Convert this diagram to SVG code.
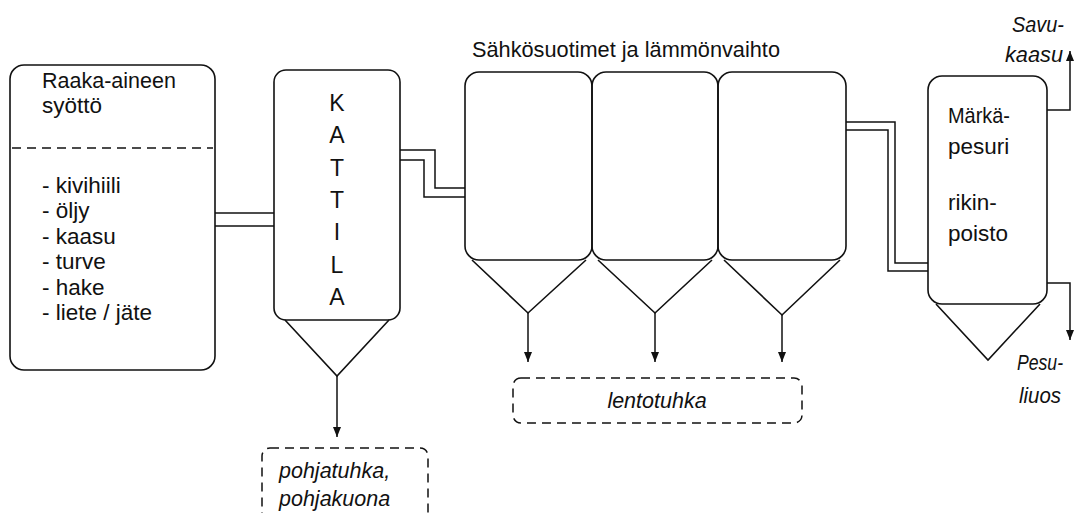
<svg xmlns="http://www.w3.org/2000/svg" width="1075" height="513" viewBox="0 0 1075 513">
<style>
  .box{fill:none;stroke:#111;stroke-width:1.6}
  .dash{fill:none;stroke:#111;stroke-width:1.5;stroke-dasharray:9 6}
  .ln{fill:none;stroke:#111;stroke-width:1.5}
  .t{font-family:"Liberation Sans",Arial,sans-serif;font-size:22.5px;fill:#111}
  .i{font-family:"Liberation Sans",Arial,sans-serif;font-size:21.5px;font-style:italic;fill:#111}
  .k{font-family:"Liberation Sans",Arial,sans-serif;font-size:23px;fill:#111;text-anchor:middle}
</style>
<defs>
  <marker id="ah" markerUnits="userSpaceOnUse" markerWidth="10" markerHeight="10" viewBox="0 0 10 10" refX="10" refY="5" orient="auto">
    <path d="M0,1 L10,5 L0,9 z" fill="#111"/>
  </marker>
</defs>
<rect width="1075" height="513" fill="#fff"/>

<g id="connectors">
  <line class="ln" x1="215" y1="213" x2="274" y2="213"/>
  <line class="ln" x1="215" y1="226" x2="274" y2="226"/>
  <polyline class="ln" points="400,150 435,150 435,188 465,188"/>
  <polyline class="ln" points="400,160 424,160 424,197 465,197"/>
  <polyline class="ln" points="846,122 895,122 895,263 928,263"/>
  <polyline class="ln" points="846,130 888,130 888,271 928,271"/>
  <line class="ln" x1="337" y1="376" x2="337" y2="437" marker-end="url(#ah)"/>
  <line class="ln" x1="528" y1="313" x2="528" y2="362" marker-end="url(#ah)"/>
  <line class="ln" x1="655" y1="313" x2="655" y2="362" marker-end="url(#ah)"/>
  <line class="ln" x1="782" y1="315" x2="782" y2="362" marker-end="url(#ah)"/>
  <polyline class="ln" points="1047,110 1070,110 1070,51" marker-end="url(#ah)"/>
  <polyline class="ln" points="1047,283 1070,283 1070,340" marker-end="url(#ah)"/>
</g>

<g id="raaka-aine">
  <rect class="box" x="10" y="65" width="205" height="305" rx="14"/>
  <line class="dash" x1="12" y1="148" x2="213" y2="148"/>
  <text class="t" x="42" y="88" textLength="134" lengthAdjust="spacingAndGlyphs">Raaka-aineen</text>
  <text class="t" x="42" y="113">syöttö</text>
  <text class="t" x="42" y="193">- kivihiili</text>
  <text class="t" x="42" y="218">- öljy</text>
  <text class="t" x="42" y="244">- kaasu</text>
  <text class="t" x="42" y="269">- turve</text>
  <text class="t" x="42" y="295">- hake</text>
  <text class="t" x="42" y="320">- liete / jäte</text>
</g>

<g id="kattila">
  <rect class="box" x="274" y="70" width="126" height="250" rx="12"/>
  <polyline class="box" points="285,320 337,376 389,320"/>
  <text class="k" x="337" y="111">K</text>
  <text class="k" x="337" y="143">A</text>
  <text class="k" x="337" y="176">T</text>
  <text class="k" x="337" y="208">T</text>
  <text class="k" x="337" y="240">I</text>
  <text class="k" x="337" y="273">L</text>
  <text class="k" x="337" y="305">A</text>
</g>

<g id="sahkosuotimet">
  <text class="t" x="472" y="57" textLength="308" lengthAdjust="spacingAndGlyphs">Sähkösuotimet ja lämmönvaihto</text>
  <rect class="box" x="465" y="72" width="127" height="188" rx="14"/>
  <polyline class="box" points="472,260 528,313 586,260"/>
  <rect class="box" x="592" y="72" width="126" height="188" rx="14"/>
  <polyline class="box" points="598,260 655,313 712,260"/>
  <rect class="box" x="718" y="72" width="128" height="188" rx="14"/>
  <polyline class="box" points="724,260 782,315 840,260"/>
</g>

<g id="markapesuri">
  <rect class="box" x="928" y="76" width="119" height="228" rx="14"/>
  <polyline class="box" points="936,304 988,360 1040,304"/>
  <text class="t" x="948" y="123" textLength="62" lengthAdjust="spacingAndGlyphs">Märkä-</text>
  <text class="t" x="948" y="154">pesuri</text>
  <text class="t" x="948" y="210">rikin-</text>
  <text class="t" x="948" y="241">poisto</text>
</g>

<g id="savukaasu">
  <text class="i" x="1012" y="32" textLength="52" lengthAdjust="spacingAndGlyphs">Savu-</text>
  <text class="i" x="1005" y="62" textLength="58" lengthAdjust="spacingAndGlyphs">kaasu</text>
</g>

<g id="pesuliuos">
  <text class="i" x="1017" y="370" textLength="46" lengthAdjust="spacingAndGlyphs">Pesu-</text>
  <text class="i" x="1019" y="403" textLength="42" lengthAdjust="spacingAndGlyphs">liuos</text>
</g>

<g id="lentotuhka">
  <rect class="dash" x="513" y="378" width="289" height="45" rx="8"/>
  <text class="i" x="657" y="408" text-anchor="middle">lentotuhka</text>
</g>

<g id="pohjatuhka">
  <rect class="dash" x="262" y="448" width="166" height="90" rx="8"/>
  <text class="i" x="279" y="478">pohjatuhka,</text>
  <text class="i" x="279" y="506">pohjakuona</text>
</g>
</svg>
